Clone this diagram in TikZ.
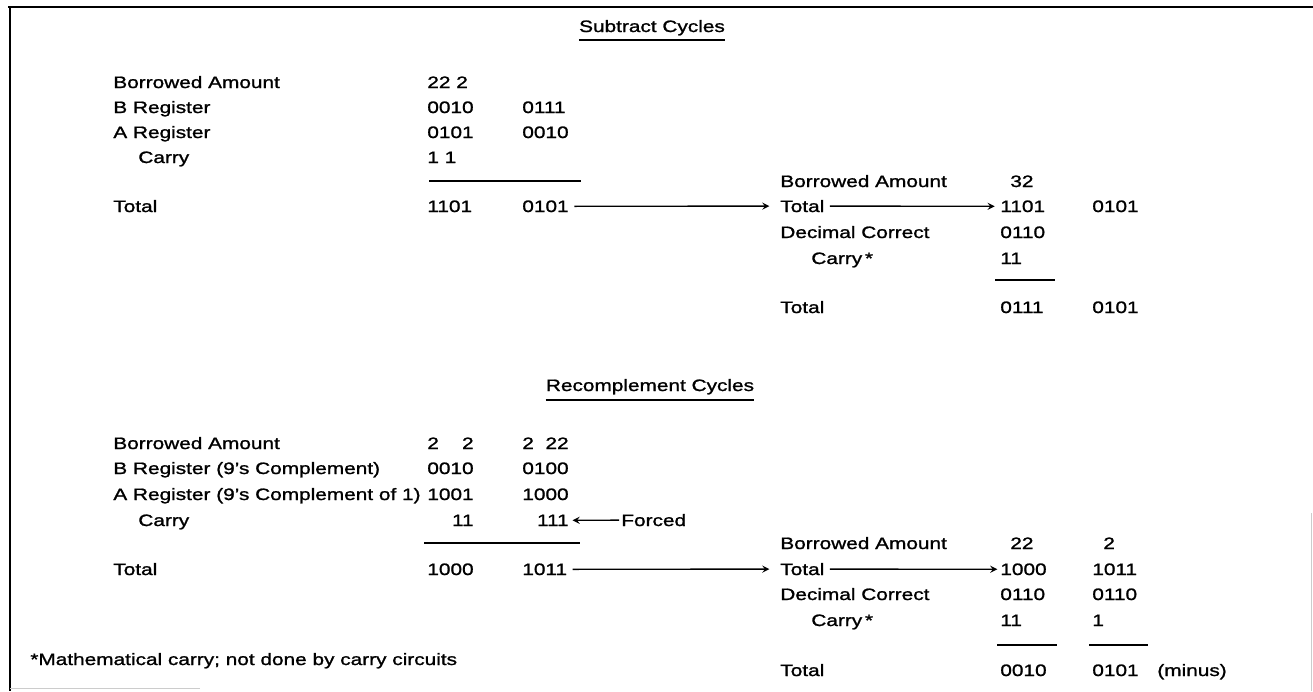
\documentclass[tikz,border=0pt]{standalone}
\usepackage{fontspec}
\setmainfont{Liberation Sans}[FakeStretch=1.26,FakeBold=1.2]
\tikzset{entry/.style={anchor=base west,inner sep=0pt},
  rentry/.style={anchor=base east,inner sep=0pt},
  sumrule/.style={line width=0.9pt},
  flow/.style={->,line width=0.8pt,shorten <=3pt,shorten >=3pt}}
\begin{document}
\begin{tikzpicture}[x=0.02cm,y=-0.02cm,>=stealth,line cap=butt,font=\fontsize{9.4}{11}\selectfont]
				\useasboundingbox (0,0) rectangle (1313,691);
				% frame
				\draw[line width=1.6pt] (8,7) -- (1313,7);
				\draw[line width=1.6pt] (10,7) -- (10,691);
				\draw[gray!40] (10,688) -- (200,688);
				\draw[gray!40] (1311,513) -- (1311,691);
				% subtract cycles
				\node[entry,anchor=base] (subttl) at (652,32) {Subtract Cycles};
				\draw[line width=1.3pt] ([yshift=-4.5pt]subttl.base west) -- ([yshift=-4.5pt]subttl.base east);
				\foreach \n/\x/\y/\txt in {sba/113/88/Borrowed Amount,sbr/113/113/B Register,sar/113/138/A Register,scy/138/163/Carry,stl/113/212/Total,
					sba1/427/88/22 2,sbr1/427/113/0010,sbr2/522/113/0111,sar1/427/138/0101,sar2/522/138/0010,scy1/427/163/1 1,stl1/427/212/1101,stl2/522/212/0101}
				\node[entry] (\n) at (\x,\y) {\txt};
				\draw[sumrule] (429,181) -- (581,181);
				\foreach \n/\x/\y/\txt in {rba/780/187/Borrowed Amount,rtl/780/212/Total,rdc/780/238/Decimal Correct,rcy/811/264/{Carry\,*},rtt/780/313/Total,
					rba1/1010/187/32,rtl1/1000/212/1101,rtl2/1092/212/0101,rdc1/1000/238/0110,rcy1/1000/264/11,rtt1/1000/313/0111,rtt2/1092/313/0101}
				\node[entry] (\n) at (\x,\y) {\txt};
				\draw[sumrule] (995,280) -- (1055,280);
				\draw[flow,shorten >=6pt] (stl2) -- (rtl);
				\draw[flow] (rtl) -- (rtl1);
				% recomplement cycles
				\node[entry,anchor=base] (recttl) at (650,391) {Recomplement Cycles};
				\draw[line width=0.9pt] ([yshift=-5pt]recttl.base west) -- ([yshift=-5pt]recttl.base east);
				\foreach \n/\x/\y/\txt in {bba/113/449/Borrowed Amount,bbr/113/474/{B Register (9’s Complement)},bar/113/500/{A Register (9’s Complement of 1)},bcy/138/526/Carry,btl/113/575/Total,
					bba1/427/449/2\phantom{00}2,bba2/522/449/2\phantom{0}22,bbr1/427/474/0010,bbr2/522/474/0100,bar1/427/500/1001,bar2/522/500/1000,btl1/427/575/1000,btl2/522/575/1011,
					frc/621/526/Forced}
				\node[entry] (\n) at (\x,\y) {\txt};
				\node[rentry] (bcy1) at (bar1.base east |- bcy.base) {11};
				\node[rentry] (bcy2) at (bar2.base east |- bcy.base) {111};
				\draw[->,line width=0.8pt,shorten <=1pt,shorten >=2pt] (frc) -- (bcy2);
				\draw[sumrule] (424,543) -- (580,543);
				\foreach \n/\x/\y/\txt in {cba/780/549/Borrowed Amount,ctl/780/575/Total,cdc/780/600/Decimal Correct,ccy/811/626/{Carry\,*},ctt/780/676/Total,
					cba1/1010/549/22,cba2/1103/549/2,ctl1/1000/575/1000,ctl2/1092/575/1011,cdc1/1000/600/0110,cdc2/1092/600/0110,ccy1/1000/626/11,ccy2/1092/626/1,
					ctt1/1000/676/0010,ctt2/1092/676/0101,cmin/1157/676/(minus)}
				\node[entry] (\n) at (\x,\y) {\txt};
				\draw[sumrule] (997,645) -- (1057,645);
				\draw[sumrule] (1089,645) -- (1148,645);
				\draw[flow,shorten >=6pt] (btl2) -- (ctl);
				\draw[flow,shorten >=1.5pt] (ctl) -- (ctl1);
				% footnote
				\node[entry] (note) at (30,665) {*Mathematical carry; not done by carry circuits};
			\end{tikzpicture}
\end{document}
